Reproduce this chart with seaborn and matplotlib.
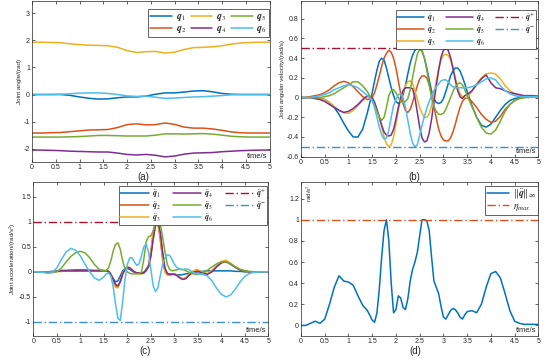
import numpy as np
import matplotlib
matplotlib.use('Agg')
import matplotlib.pyplot as plt
import seaborn as sns

# ---- time grids ----
t_a = np.round(np.arange(0, 5.01, 0.2), 2)
t_b = np.round(np.concatenate([np.arange(0, 1.45, 0.1),
                               np.arange(1.5, 3.47, 0.05),
                               np.arange(3.5, 5.01, 0.1)]), 2)

# ---- (a) joint angles ----
q1 = [0, 0, 0, 0, -0.03, -0.09, -0.14, -0.17, -0.16, -0.12, -0.09, -0.09, -0.06,
      0.01, 0.06, 0.06, 0.09, 0.13, 0.14, 0.1, 0.04, 0.01, 0, 0, 0, 0]
q2 = [-1.42, -1.42, -1.41, -1.4, -1.37, -1.34, -1.31, -1.3, -1.29, -1.22, -1.11, -1.08, -1.12,
      -1.11, -1.05, -1.1, -1.2, -1.24, -1.24, -1.27, -1.32, -1.38, -1.41, -1.42, -1.42, -1.42]
q3 = [1.93, 1.93, 1.92, 1.91, 1.87, 1.84, 1.82, 1.81, 1.8, 1.74, 1.62, 1.55, 1.58,
      1.59, 1.53, 1.56, 1.66, 1.73, 1.74, 1.76, 1.8, 1.86, 1.9, 1.92, 1.93, 1.93]
q4 = [-2.05, -2.05, -2.06, -2.07, -2.09, -2.1, -2.11, -2.12, -2.12, -2.16, -2.21, -2.23, -2.21,
      -2.24, -2.3, -2.27, -2.2, -2.16, -2.15, -2.14, -2.11, -2.09, -2.07, -2.06, -2.05, -2.05]
q5 = [-1.57, -1.57, -1.57, -1.57, -1.56, -1.55, -1.53, -1.51, -1.51, -1.52, -1.53, -1.53, -1.53,
      -1.5, -1.45, -1.45, -1.46, -1.45, -1.44, -1.46, -1.5, -1.54, -1.56, -1.57, -1.57, -1.57]
q6 = [0, 0, 0, 0.01, 0.03, 0.05, 0.06, 0.06, 0.04, 0.0, -0.05, -0.07, -0.06,
      -0.1, -0.14, -0.13, -0.11, -0.09, -0.08, -0.06, -0.04, -0.01, 0, 0, 0, 0]

# ---- (b) joint angular velocities ----
dq1 = [0, 0, 0, 0, 0, -0.02, -0.05, -0.1, -0.17, -0.26, -0.34, -0.4, -0.4, -0.32, -0.15,
       0.05, 0.17, 0.28, 0.37, 0.4, 0.38, 0.3, 0.2, 0.1, 0.02,
       -0.04, -0.06, -0.04, 0.03, 0.12, 0.24, 0.35, 0.43, 0.48, 0.5,
       0.5, 0.47, 0.4, 0.3, 0.18, 0.07, -0.01, -0.05, -0.06, -0.05,
       -0.01, 0.06, 0.14, 0.22, 0.27, 0.3, 0.3, 0.27, 0.21, 0.14,
       0.06, -0.08, -0.2, -0.28, -0.3, -0.27, -0.2, -0.13, -0.07, -0.03, -0.01, 0, 0.01, 0.01, 0.01, 0.01]
dq2 = [0, 0, 0.01, 0.02, 0.03, 0.05, 0.08, 0.12, 0.15, 0.165, 0.15, 0.11, 0.06, 0.01, -0.02,
       0.0, 0.05, 0.13, 0.22, 0.32, 0.4, 0.45, 0.48, 0.46, 0.4,
       0.3, 0.17, 0.04, -0.06, -0.13, -0.15, -0.12, -0.05, 0.04, 0.12,
       0.19, 0.22, 0.22, 0.2, 0.13, 0.03, -0.09, -0.21, -0.32, -0.39,
       -0.43, -0.44, -0.44, -0.41, -0.35, -0.27, -0.18, -0.1, -0.04, -0.01,
       0.0, -0.04, -0.1, -0.17, -0.22, -0.25, -0.24, -0.19, -0.12, -0.07, -0.03, -0.01, 0.0, 0.01, 0.01, 0.01]
dq3 = [0, 0, 0, -0.01, -0.01, -0.02, -0.05, -0.09, -0.13, -0.155, -0.16, -0.13, -0.08, -0.03, 0.01,
       0.0, -0.05, -0.12, -0.2, -0.3, -0.4, -0.47, -0.5, -0.48, -0.4,
       -0.27, -0.13, -0.02, 0.06, 0.12, 0.16, 0.17, 0.14, 0.07, -0.02,
       -0.1, -0.16, -0.2, -0.2, -0.17, -0.08, 0.04, 0.17, 0.29, 0.38,
       0.43, 0.44, 0.43, 0.38, 0.3, 0.2, 0.11, 0.04, 0.01, 0.0,
       0.0, 0.06, 0.14, 0.2, 0.24, 0.25, 0.24, 0.19, 0.12, 0.07, 0.04, 0.02, 0.01, 0.01, 0.01, 0.01]
dq4 = [0, 0, 0, -0.01, -0.02, -0.04, -0.07, -0.1, -0.13, -0.15, -0.14, -0.11, -0.07, -0.02, 0.02,
       0.0, -0.05, -0.12, -0.2, -0.28, -0.35, -0.38, -0.39, -0.38, -0.32,
       -0.22, -0.1, 0.0, 0.07, 0.1, 0.1, 0.1, 0.09, 0.0, -0.15,
       -0.3, -0.41, -0.45, -0.44, -0.36, -0.22, -0.05, 0.12, 0.28, 0.41,
       0.48, 0.5, 0.48, 0.41, 0.3, 0.18, 0.07, 0.01, -0.01, 0.02,
       0.03, 0.07, 0.13, 0.19, 0.23, 0.15, 0.1, 0.09, 0.07, 0.05, 0.04, 0.03, 0.02, 0.02, 0.02, 0.015]
dq5 = [0, 0, 0, 0, 0.0, 0.01, 0.02, 0.04, 0.07, 0.1, 0.13, 0.16, 0.16, 0.12, 0.06,
       -0.03, -0.08, -0.14, -0.2, -0.23, -0.2, -0.1, 0.02, 0.07, 0.08,
       0.05, 0.0, -0.04, -0.05, -0.04, -0.01, 0.08, 0.2, 0.33, 0.44,
       0.49, 0.48, 0.4, 0.28, 0.13, 0.0, -0.09, -0.14, -0.17, -0.17,
       -0.16, -0.12, -0.06, 0.0, 0.06, 0.11, 0.14, 0.15, 0.13, 0.08,
       0.02, -0.09, -0.2, -0.3, -0.36, -0.37, -0.33, -0.24, -0.14, -0.07, -0.03, -0.01, 0.0, 0.0, 0.01, 0.01]
dq6 = [0, 0, 0.0, 0.01, 0.02, 0.03, 0.05, 0.08, 0.1, 0.12, 0.13, 0.12, 0.1, 0.06, 0.02,
       -0.03, -0.1, -0.2, -0.3, -0.38, -0.42, -0.41, -0.33, -0.2, -0.08,
       -0.02, 0.03, 0.04, 0.0, -0.1, -0.23, -0.36, -0.46, -0.5, -0.48,
       -0.38, -0.28, -0.19, -0.11, -0.04, 0.02, 0.07, 0.11, 0.14, 0.17,
       0.18, 0.18, 0.16, 0.13, 0.11, 0.1, 0.1, 0.1, 0.1, 0.1,
       0.1, 0.11, 0.13, 0.16, 0.19, 0.2, 0.18, 0.12, 0.07, 0.04, 0.02, 0.01, 0.01, 0.01, 0.01, 0.01]

# ---- (c) joint accelerations ----
ddq1 = [0, 0, 0, 0, 0.01, 0.02, 0.03, 0.03, 0.035, 0.04, 0.04, 0.04, 0.035, 0.03, 0.03,
        0.03, 0.02, 0.0, -0.05, -0.14, -0.2, -0.18, -0.08, 0.02, 0.06,
        0.07, 0.05, 0.02, -0.01, -0.02, -0.02, -0.02, -0.01, 0.05, 0.12,
        0.35, 0.7, 0.95, 0.97, 0.75, 0.35, 0.05, -0.04, -0.05, -0.05,
        -0.05, -0.06, -0.06, -0.06, -0.05, -0.04, -0.03, -0.02, -0.01, 0.0,
        0.0, 0.01, 0.02, 0.02, 0.02, 0.02, 0.02, 0.02, 0.01, 0.01, 0.0, 0, 0, 0, 0, 0]
ddq2 = [0, 0, 0, 0, 0.0, 0.01, 0.01, 0.02, 0.02, 0.02, 0.02, 0.02, 0.02, 0.02, 0.02,
        0.02, 0.02, 0.01, -0.05, -0.18, -0.28, -0.3, -0.18, -0.02, 0.06,
        0.09, 0.08, 0.04, 0.0, -0.02, -0.03, -0.03, -0.02, 0.03, 0.12,
        0.4, 0.8, 1.0, 0.97, 0.65, 0.25, 0.0, -0.05, -0.05, -0.04,
        -0.04, -0.06, -0.1, -0.13, -0.14, -0.12, -0.08, -0.04, 0.0, 0.02,
        0.03, -0.01, -0.04, 0.02, 0.11, 0.19, 0.21, 0.16, 0.09, 0.04, 0.01, 0.0, 0, 0, 0, 0]
ddq3 = [0, 0, 0, 0, 0.0, 0.01, 0.01, 0.02, 0.02, 0.02, 0.02, 0.02, 0.02, 0.02, 0.02,
        0.02, 0.02, 0.01, -0.06, -0.2, -0.31, -0.32, -0.2, -0.03, 0.06,
        0.1, 0.09, 0.05, 0.0, -0.03, -0.04, -0.04, -0.03, 0.02, 0.1,
        0.38, 0.78, 0.98, 0.98, 0.7, 0.3, 0.0, -0.07, -0.07, -0.05,
        -0.05, -0.07, -0.1, -0.13, -0.14, -0.11, -0.06, -0.02, 0.02, 0.04,
        0.04, 0.0, -0.04, 0.03, 0.13, 0.21, 0.23, 0.17, 0.1, 0.05, 0.02, 0.0, 0, 0, 0, 0]
ddq4 = [0, 0, 0, 0, 0.0, 0.01, 0.02, 0.02, 0.02, 0.02, 0.02, 0.02, 0.02, 0.02, 0.02,
        0.02, 0.02, 0.01, -0.05, -0.15, -0.25, -0.28, -0.2, -0.05, 0.05,
        0.09, 0.08, 0.04, 0.0, -0.02, -0.03, -0.03, -0.02, 0.03, 0.1,
        0.3, 0.65, 0.93, 1.0, 0.8, 0.4, 0.08, -0.03, -0.05, -0.05,
        -0.05, -0.07, -0.11, -0.14, -0.15, -0.13, -0.08, -0.04, -0.01, 0.0,
        0.01, -0.02, -0.05, 0.0, 0.1, 0.18, 0.2, 0.15, 0.09, 0.04, 0.02, 0.0, 0, 0, 0, 0]
ddq5 = [0, 0, 0, 0, 0.0, 0.0, 0.08, 0.2, 0.31, 0.38, 0.41, 0.38, 0.28, 0.15, 0.05,
        0.02, 0.03, 0.08, 0.22, 0.42, 0.55, 0.58, 0.45, 0.22, 0.06,
        0.0, -0.03, -0.04, -0.04, -0.04, -0.04, 0.0, 0.25, 0.6, 0.7,
        0.72, 0.82, 0.97, 1.0, 0.95, 0.7, 0.4, 0.15, 0.05, 0.02,
        0.03, 0.04, 0.05, 0.05, 0.04, 0.02, 0.0, -0.02, -0.04, -0.05,
        -0.05, -0.03, 0.03, 0.1, 0.16, 0.2, 0.2, 0.16, 0.1, 0.05, 0.02, 0.01, 0, 0, 0, 0]
ddq6 = [0, 0, -0.01, -0.03, -0.02, 0.08, 0.25, 0.4, 0.47, 0.43, 0.32, 0.15, 0.0, -0.12, -0.17,
        -0.1, -0.04, -0.02, -0.08, -0.3, -0.65, -0.93, -0.97, -0.6, -0.15,
        0.15, 0.28, 0.28, 0.2, 0.13, 0.16, 0.32, 0.5, 0.55, 0.4,
        0.05, -0.28, -0.39, -0.32, -0.08, 0.15, 0.28, 0.34, 0.33, 0.25,
        0.15, 0.09, 0.06, 0.05, 0.05, 0.06, 0.05, 0.02, -0.01, -0.03,
        -0.04, -0.05, -0.08, -0.18, -0.33, -0.45, -0.5, -0.46, -0.34, -0.2, -0.09, -0.03, -0.01, 0, 0, 0]

# ---- (d) infinity norm of acceleration ----
acc_norm = [0.0, 0.0, 0.02, 0.04, 0.02, 0.06, 0.2, 0.36, 0.47, 0.42, 0.41, 0.38, 0.28, 0.19, 0.14,
            0.05, 0.03, 0.12, 0.35, 0.65, 0.9, 1.0, 0.8, 0.4, 0.12,
            0.15, 0.28, 0.26, 0.17, 0.15, 0.25, 0.42, 0.53, 0.6, 0.69,
            0.85, 1.0, 1.0, 0.99, 0.9, 0.65, 0.42, 0.36, 0.3, 0.18,
            0.08, 0.06, 0.1, 0.14, 0.16, 0.15, 0.12, 0.08, 0.06, 0.1,
            0.13, 0.14, 0.12, 0.2, 0.36, 0.49, 0.51, 0.45, 0.3, 0.14, 0.04, 0.02, 0.01, 0.01, 0.01, 0.01]

# limits
dq_max = 0.5
ddq_max = 1.0
eta_max = 1.0

for s in [q1, q2, q3, q4, q5, q6]:
    assert len(s) == len(t_a), len(s)
for s in [dq1, dq2, dq3, dq4, dq5, dq6, ddq1, ddq2, ddq3, ddq4, ddq5, ddq6, acc_norm]:
    assert len(s) == len(t_b), len(s)

colors = ['#0072BD', '#D95319', '#EDB120', '#7E2F8E', '#77AC30', '#4DBEEE']
upper_col = '#A2142F'
lower_col = '#3C90D0'
xtick_labels = ['0', '0.5', '1', '1.5', '2', '2.5', '3', '3.5', '4', '4.5', '5']

sns.set_style('ticks')
plt.rcParams['font.family'] = ['Liberation Sans', 'DejaVu Sans']
plt.rcParams['mathtext.fontset'] = 'stix'

fig = plt.figure(figsize=(5.5, 3.63), dpi=100)
ax_a = fig.add_axes([0.0582, 0.5529, 0.4318, 0.4444])
ax_b = fig.add_axes([0.5473, 0.5683, 0.4315, 0.4289])
ax_c = fig.add_axes([0.0606, 0.0744, 0.4273, 0.4251])
ax_d = fig.add_axes([0.5473, 0.0744, 0.4315, 0.4251])


def style_axes(ax, ylim, yticks, ylabel):
    ax.set_xlim(0, 5)
    ax.set_xticks(np.arange(0, 5.01, 0.5))
    ax.set_xticklabels(xtick_labels)
    ax.set_ylim(ylim)
    ax.set_yticks(yticks)
    ax.set_yticklabels(['%g' % v for v in yticks])
    ax.tick_params(direction='in', length=2, width=0.5, labelsize=5, top=True,
                   right=True, pad=1.5, colors='#262626')
    for sp in ax.spines.values():
        sp.set_linewidth(0.5)
        sp.set_color('#262626')
    ax.set_xlabel('')
    ax.set_ylabel(ylabel, fontsize=4.5, labelpad=1)
    ax.text(0.99, 0.012, 'time/s', transform=ax.transAxes, ha='right', va='bottom',
            fontsize=5.5, color='#262626')


def make_legend(ax, ncol, anchor, fontsize=7, hl=2.3, ls=0.0, cs=0.5, bp=0.2):
    h, l = ax.get_legend_handles_labels()
    leg = ax.legend(h, l, ncol=ncol, loc='upper right', bbox_to_anchor=anchor,
                    borderaxespad=0, fontsize=fontsize, handlelength=hl,
                    handletextpad=0.4, columnspacing=cs, labelspacing=ls,
                    borderpad=bp, fancybox=False, framealpha=1,
                    edgecolor='#262626')
    leg.get_frame().set_linewidth(0.5)


# (a)
for i, s in enumerate([q1, q2, q3, q4, q5, q6]):
    sns.lineplot(x=t_a, y=s, ax=ax_a, color=colors[i], lw=1.1, errorbar=None,
                 label=r'$\mathbfit{q}_%d$' % (i + 1))
style_axes(ax_a, (-2.5, 3.45), [-2, -1, 0, 1, 2, 3], 'Joint angle/(rad)')
make_legend(ax_a, 3, (0.996, 0.95), hl=2.2)

# (b)
for i, s in enumerate([dq1, dq2, dq3, dq4, dq5, dq6]):
    sns.lineplot(x=t_b, y=s, ax=ax_b, color=colors[i], lw=1.1, errorbar=None,
                 label=r'$\dot{\mathbfit{q}}_%d$' % (i + 1))
ax_b.axhline(dq_max, color=upper_col, lw=1.0, dashes=(6, 2, 1, 2),
             label=r'$\dot{\mathbfit{q}}^{+}$')
ax_b.axhline(-dq_max, color=lower_col, lw=1.0, dashes=(6, 2, 1, 2),
             label=r'$\dot{\mathbfit{q}}^{-}$')
style_axes(ax_b, (-0.56, 0.98), [-0.6, -0.4, -0.2, 0, 0.2, 0.4, 0.6, 0.8],
           'Joint angular velocity/(rad/s)')
make_legend(ax_b, 3, (0.99, 0.945), fontsize=5.8, hl=3.3, cs=1.3, bp=0.12)

# (c)
for i, s in enumerate([ddq1, ddq2, ddq3, ddq4, ddq5, ddq6]):
    sns.lineplot(x=t_b, y=s, ax=ax_c, color=colors[i], lw=1.1, errorbar=None,
                 label=r'$\ddot{\mathbfit{q}}_%d$' % (i + 1))
ax_c.axhline(ddq_max, color=upper_col, lw=1.0, dashes=(6, 2, 1, 2),
             label=r'$\ddot{\mathbfit{q}}^{+}$')
ax_c.axhline(-ddq_max, color=lower_col, lw=1.0, dashes=(6, 2, 1, 2),
             label=r'$\ddot{\mathbfit{q}}^{-}$')
style_axes(ax_c, (-1.28, 1.8), [-1, -0.5, 0, 0.5, 1, 1.5],
           'Joint acceleration/(rad/s$^2$)')
make_legend(ax_c, 3, (0.995, 0.975), fontsize=5.8, hl=3.5, cs=1.5, bp=0.12)

# (d)
sns.lineplot(x=t_b, y=acc_norm, ax=ax_d, color=colors[0], lw=1.1, errorbar=None,
             label=r'$\Vert\ddot{\mathbfit{q}}\Vert_{\infty}$')
ax_d.axhline(eta_max, color=colors[1], lw=1.0, dashes=(6, 2, 1, 2),
             label=r'$\eta_{max}$')
style_axes(ax_d, (-0.1, 1.36), [0, 0.2, 0.4, 0.6, 0.8, 1, 1.2], '')
ax_d.text(0.015, 0.985, 'rad/s$^2$', transform=ax_d.transAxes, rotation=90,
          ha='left', va='top', fontsize=4.5, color='#262626')
make_legend(ax_d, 1, (0.998, 0.975))

# panel tags
for x, y, tag in [(143, 176.5, '(a)'), (414, 176.5, '(b)'), (145, 351, '(c)'), (415, 351, '(d)')]:
    fig.text(x / 550, 1 - y / 363, tag, ha='center', va='center', fontsize=7,
             color='#262626')

fig.savefig('out.png', dpi=100)
